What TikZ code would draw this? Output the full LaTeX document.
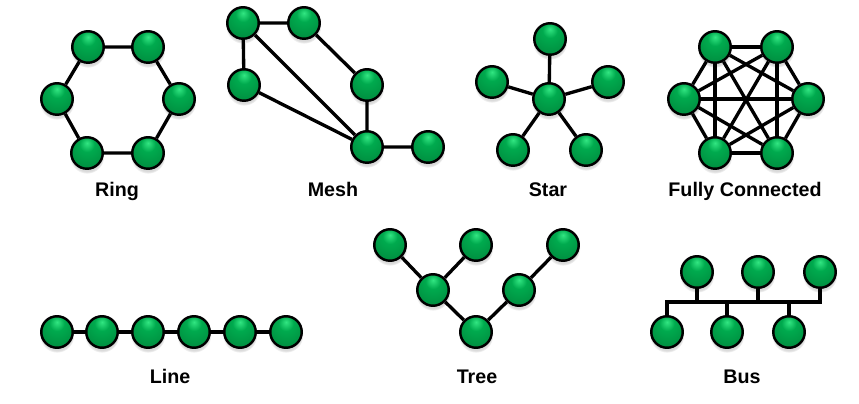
\documentclass[tikz,border=0pt]{standalone}
\usepackage{fontspec}
\setmainfont{Liberation Sans}
\usepackage{tikz}
\usetikzlibrary{shadows}

\definecolor{ballhi}{RGB}{50,230,130}
\definecolor{ballmid}{RGB}{0,170,78}
\definecolor{balldeep}{RGB}{0,135,60}
\definecolor{ballrim}{RGB}{0,90,38}
\pgfdeclareradialshading{greenball}{\pgfpoint{0bp}{16bp}}{color(0bp)=(ballhi); color(12bp)=(ballmid); color(40bp)=(balldeep); color(62bp)=(ballrim); color(80bp)=(ballrim)}

\tikzset{
  host/.style={circle, draw=black, line width=1.4pt, minimum size=0.63cm, inner sep=0pt,
    shading=greenball, circular drop shadow={shadow xshift=0pt, shadow yshift=-1.8pt, fill=black, opacity=0.15}},
  link/.style={black, line width=1.9pt},
  caption/.style={anchor=base, font=\fontsize{11.2}{13}\selectfont\bfseries}
}

\begin{document}
\begin{tikzpicture}[x=0.02cm,y=-0.02cm]
        \useasboundingbox (0,0) rectangle (859,404);

        % ring
        \node[host] (r1) at (88,47) {};
        \node[host] (r2) at (148,47) {};
        \node[host] (r3) at (57,99) {};
        \node[host] (r4) at (179,99) {};
        \node[host] (r5) at (87,153) {};
        \node[host] (r6) at (148,153) {};
        \draw[link] (r1) -- (r2) -- (r4) -- (r6) -- (r5) -- (r3) -- (r1);
        \node[caption] (capRing) at (117,197) {Ring};

        % mesh
        \node[host] (m1) at (243,23) {};
        \node[host] (m2) at (304,23) {};
        \node[host] (m3) at (244,85) {};
        \node[host] (m4) at (367,85) {};
        \node[host] (m5) at (367,147) {};
        \node[host] (m6) at (428,147) {};
        \draw[link] (m3) -- (m1) -- (m2) -- (m4) -- (m5) -- (m6);
        \draw[link] (m1) -- (m5);
        \draw[link] (m3) -- (m5);
        \node[caption] (capMesh) at (333,197) {Mesh};

        % star
        \node[host] (s0) at (549,99) {};
        \node[host] (s1) at (550,39) {};
        \node[host] (s2) at (492,82) {};
        \node[host] (s3) at (608,82) {};
        \node[host] (s4) at (513,150) {};
        \node[host] (s5) at (586,150) {};
        \foreach \s in {1,...,5}
            \draw[link] (s0) -- (s\s);
        \node[caption] (capStar) at (548,197) {Star};

        % fully connected
        \node[host] (f1) at (715,47) {};
        \node[host] (f2) at (777,47) {};
        \node[host] (f3) at (684,99) {};
        \node[host] (f4) at (808,99) {};
        \node[host] (f5) at (715,153) {};
        \node[host] (f6) at (777,153) {};
        \foreach \i in {1,...,6}
            \foreach \j in {1,...,6}
                {\ifnum\i<\j \draw[link] (f\i) -- (f\j); \fi}
        \node[caption] (capFull) at (745,197) {Fully Connected};

        % line
        \foreach \x [count=\n] in {57,102,148,194,240,286}
            \node[host] (l\n) at (\x,332) {};
        \draw[link] (l1) -- (l2) -- (l3) -- (l4) -- (l5) -- (l6);
        \node[caption] (capLine) at (170,384) {Line};

        % tree
        \node[host] (t1) at (390,245) {};
        \node[host] (t2) at (476,245) {};
        \node[host] (t3) at (563,245) {};
        \node[host] (t4) at (433,290) {};
        \node[host] (t5) at (519,290) {};
        \node[host] (t6) at (476,332) {};
        \draw[link] (t1) -- (t4) -- (t6) -- (t5) -- (t3);
        \draw[link] (t2) -- (t4);
        \node[caption] (capTree) at (477,384) {Tree};

        % bus
        \node[host] (b1) at (697,272) {};
        \node[host] (b2) at (758,272) {};
        \node[host] (b3) at (820,272) {};
        \node[host] (b4) at (667,332) {};
        \node[host] (b5) at (727,332) {};
        \node[host] (b6) at (789,332) {};
        \coordinate (busL) at (667,302);
        \coordinate (busR) at (820,302);
        \draw[link] (b4) -- (busL) -- (busR) -- (b3);
        \foreach \b in {b1,b2,b5,b6}
            \draw[link] (\b) -- (\b |- busL);
        \node[caption] (capBus) at (742,384) {Bus};

\end{tikzpicture}
\end{document}
